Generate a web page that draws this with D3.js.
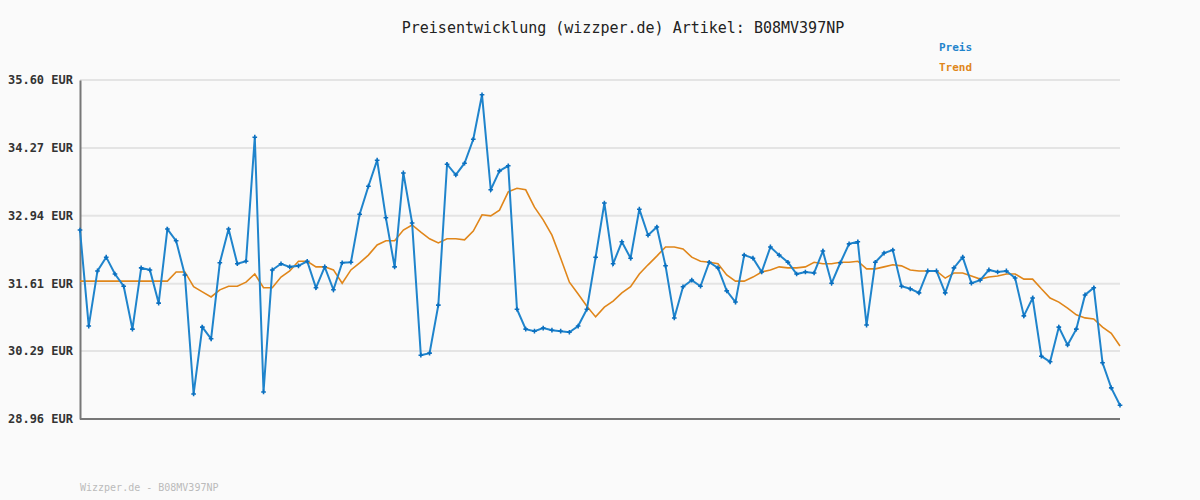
<!DOCTYPE html>
<html><head><meta charset="utf-8">
<script src="https://cdn.jsdelivr.net/npm/d3@7"></script>
<style>body{margin:0;background:#fafafa}text{font-family:"DejaVu Sans Mono",monospace}</style>
</head><body><svg id="chart"></svg>
<script>
const preis = [32.66,30.78,31.86,32.13,31.80,31.56,30.72,31.92,31.88,31.23,
32.68,32.45,31.78,29.45,30.76,30.53,32.02,32.68,32.00,32.05,
34.48,29.49,31.88,32.00,31.94,31.96,32.05,31.53,31.94,31.49,
32.02,32.03,32.97,33.52,34.03,32.90,31.94,33.78,32.80,30.21,
30.25,31.19,33.95,33.74,33.97,34.44,35.31,33.45,33.82,33.92,
31.11,30.72,30.68,30.74,30.70,30.68,30.66,30.78,31.11,32.13,
33.19,32.00,32.43,32.11,33.07,32.56,32.72,31.96,30.94,31.55,
31.68,31.56,32.03,31.92,31.47,31.25,32.17,32.11,31.84,32.33,
32.17,32.03,31.80,31.84,31.82,32.25,31.62,32.02,32.39,32.43,
30.80,32.03,32.21,32.27,31.56,31.51,31.43,31.86,31.86,31.43,
31.92,32.13,31.62,31.68,31.88,31.84,31.86,31.72,30.98,31.33,
30.19,30.08,30.76,30.41,30.72,31.39,31.53,30.06,29.57,29.23];
const trend = [31.66,31.66,31.66,31.66,31.66,31.66,31.66,31.66,31.66,31.66,31.66,
31.84,31.84,31.55,31.45,31.35,31.49,31.56,31.56,31.64,31.80,
31.53,31.53,31.74,31.86,32.05,32.05,31.94,31.94,31.88,31.62,
31.88,32.02,32.17,32.37,32.45,32.45,32.66,32.76,32.62,32.49,
32.41,32.49,32.49,32.47,32.64,32.96,32.94,33.05,33.41,33.48,
33.45,33.11,32.86,32.56,32.11,31.64,31.41,31.17,30.96,31.15,
31.27,31.43,31.55,31.80,31.98,32.15,32.33,32.33,32.29,32.13,
32.05,32.03,32.00,31.78,31.66,31.66,31.74,31.84,31.88,31.94,
31.92,31.92,31.94,32.03,32.00,32.00,32.03,32.03,32.05,31.90,
31.90,31.94,31.98,31.96,31.88,31.86,31.86,31.86,31.72,31.82,
31.82,31.76,31.70,31.74,31.76,31.80,31.80,31.70,31.70,31.51,
31.33,31.25,31.13,31.00,30.94,30.92,30.76,30.64,30.39];
const yTicks = [28.96,30.29,31.61,32.94,34.27,35.60];

const W = 1200, H = 500;
const svg = d3.select("#chart").attr("width", W).attr("height", H);
svg.append("rect").attr("width", W).attr("height", H).attr("fill", "#fafafa");

const x = d3.scaleLinear().domain([0, preis.length - 1]).range([80, 1120]);
const y = d3.scaleLinear().domain([28.96, 35.60]).range([419, 80]);

svg.append("g").selectAll("line").data(yTicks.slice(1)).enter().append("line")
  .attr("x1", 80).attr("x2", 1120).attr("y1", d => y(d)).attr("y2", d => y(d))
  .attr("stroke", "#e4e4e4").attr("stroke-width", 2);

const ax = svg.append("g").attr("transform", "translate(80,0)")
  .call(d3.axisLeft(y).tickValues(yTicks).tickFormat(d => d.toFixed(2) + " EUR").tickSize(0).tickPadding(7));
ax.select(".domain").attr("stroke", "#777").attr("stroke-width", 2);
ax.selectAll(".tick text").attr("font-size", 12).attr("font-weight", "bold").attr("fill", "#333");

svg.append("line").attr("x1", 80).attr("x2", 1120).attr("y1", 419).attr("y2", 419)
  .attr("stroke", "#777").attr("stroke-width", 2);

const line = d3.line().x((d, i) => x(i)).y(d => y(d));
svg.append("path").datum(trend).attr("d", line).attr("fill", "none")
  .attr("stroke", "#e0861a").attr("stroke-width", 1.6);
svg.append("path").datum(preis).attr("d", line).attr("fill", "none")
  .attr("stroke", "#1f84cc").attr("stroke-width", 2);
svg.append("g").selectAll("path").data(preis).enter().append("path")
  .attr("d", d3.symbol().type(d3.symbolCross).size(12))
  .attr("transform", (d, i) => `translate(${x(i)},${y(d)})`).attr("fill", "#0a6fbf");

svg.append("text").attr("x", 623).attr("y", 33).attr("text-anchor", "middle")
  .attr("font-size", 15).attr("fill", "#222").text("Preisentwicklung (wizzper.de) Artikel: B08MV397NP");
svg.append("text").attr("x", 939).attr("y", 51).attr("font-size", 11).attr("font-weight", "bold")
  .attr("fill", "#1f84cc").text("Preis");
svg.append("text").attr("x", 939).attr("y", 71).attr("font-size", 11).attr("font-weight", "bold")
  .attr("fill", "#e0861a").text("Trend");
svg.append("text").attr("x", 80).attr("y", 491).attr("font-size", 10).attr("fill", "#bbb")
  .text("Wizzper.de - B08MV397NP");
</script></body></html>
